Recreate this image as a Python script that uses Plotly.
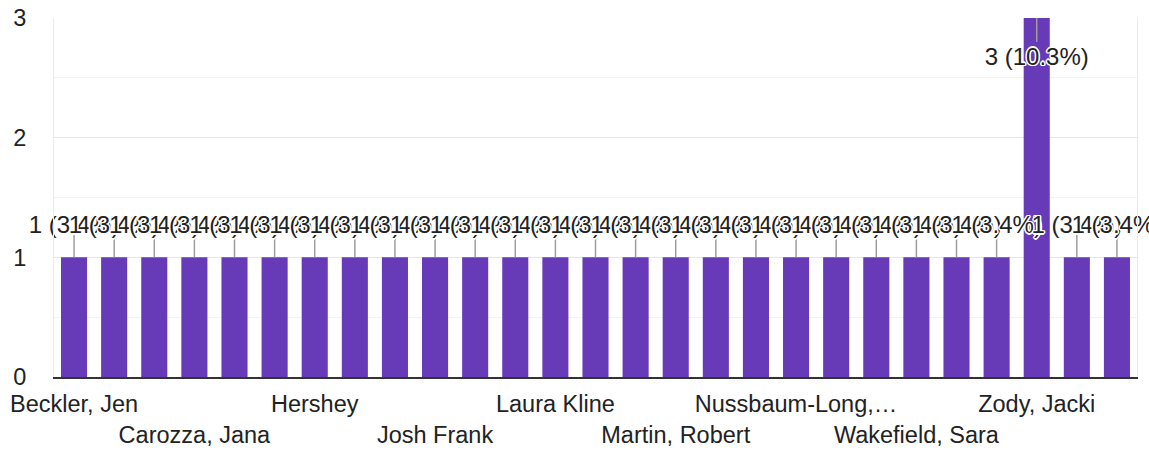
import plotly.graph_objects as go

# Respondent names (only every third label is readable in the chart; others are placeholders)
categories = [
    "Beckler, Jen", "Respondent 2", "Respondent 3",
    "Carozza, Jana", "Respondent 5", "Respondent 6",
    "Hershey", "Respondent 8", "Respondent 9",
    "Josh Frank", "Respondent 11", "Respondent 12",
    "Laura Kline", "Respondent 14", "Respondent 15",
    "Martin, Robert", "Respondent 17", "Respondent 18",
    "Nussbaum-Long,…", "Respondent 20", "Respondent 21",
    "Wakefield, Sara", "Respondent 23", "Respondent 24",
    "Zody, Jacki", "Respondent 26", "Respondent 27",
]
counts = [1, 1, 1, 1, 1, 1, 1, 1, 1, 1, 1, 1, 1, 1, 1, 1, 1, 1, 1, 1, 1, 1, 1, 1, 3, 1, 1]

shown_ticks = [0, 3, 6, 9, 12, 15, 18, 21, 24]
y_ticks = [0, 1, 2, 3]

total = sum(counts)
labels = [f"{c} ({c / total * 100:.1f}%)" for c in counts]
ymax = 3

# label placement offsets (data units): above short bars, inside tall bar
lab_y, line_x, line_y = [], [], []
for cat, v in zip(categories, counts):
    if v >= ymax:
        lab_y.append(v - 0.34)
        line_x += [cat, cat, None]
        line_y += [v, v - 0.2, None]
    else:
        lab_y.append(v + 0.25)
        line_x += [cat, cat, None]
        line_y += [v, v + 0.19, None]

tickvals = [categories[i] for i in shown_ticks]
ticktext = [("" if k % 2 == 0 else "<br>") + categories[i] for k, i in enumerate(shown_ticks)]

FONT = "Arial, Liberation Sans, sans-serif"

fig = go.Figure()
fig.add_trace(go.Bar(
    x=categories, y=counts,
    marker=dict(color="#673ab7", line=dict(width=0)),
    hoverinfo="skip",
))
fig.add_trace(go.Scatter(
    x=line_x, y=line_y, mode="lines",
    line=dict(color="#9e9e9e", width=1.5),
    hoverinfo="skip",
))
halo = ("1.5px 0 0 #fff, -1.5px 0 0 #fff, 0 1.5px 0 #fff, 0 -1.5px 0 #fff, "
        "1px 1px 0 #fff, -1px -1px 0 #fff, 1px -1px 0 #fff, -1px 1px 0 #fff")
fig.add_trace(go.Scatter(
    x=categories, y=lab_y, mode="text", text=labels,
    textposition="middle center",
    textfont=dict(family=FONT, size=24, color="#222222", shadow=halo),
    cliponaxis=False,
    hoverinfo="skip",
))

fig.update_layout(
    width=1149, height=451,
    margin=dict(l=54, r=12, t=18, b=74),
    paper_bgcolor="white", plot_bgcolor="white",
    showlegend=False,
    bargap=0.35,
    font=dict(family=FONT, size=23, color="#222222"),
)
fig.update_xaxes(
    type="category",
    automargin=False,
    tickmode="array", tickvals=tickvals, ticktext=ticktext,
    tickangle=0,
    showgrid=False,
    showline=True, linecolor="#333333", linewidth=2,
    ticks="",
    ticklabelstandoff=5,
    tickfont=dict(size=23.5, color="#222222"),
    range=[-0.5, len(categories) - 0.5],
)
fig.update_yaxes(
    range=[0, ymax],
    automargin=False,
    tickmode="array", tickvals=y_ticks,
    showgrid=True, gridcolor="#e6e6e6", gridwidth=1,
    minor=dict(dtick=0.5, showgrid=True, gridcolor="#f3f3f3", gridwidth=1),
    showline=True, mirror=True, linecolor="#ebebeb", linewidth=1,
    zeroline=False,
    ticks="",
    ticklabelstandoff=22,
    tickfont=dict(size=23.5, color="#222222"),
)

fig.write_html(
    "out.html",
    config={"displayModeBar": False},
    post_script="document.body.style.margin='0';document.documentElement.style.margin='0';",
)
